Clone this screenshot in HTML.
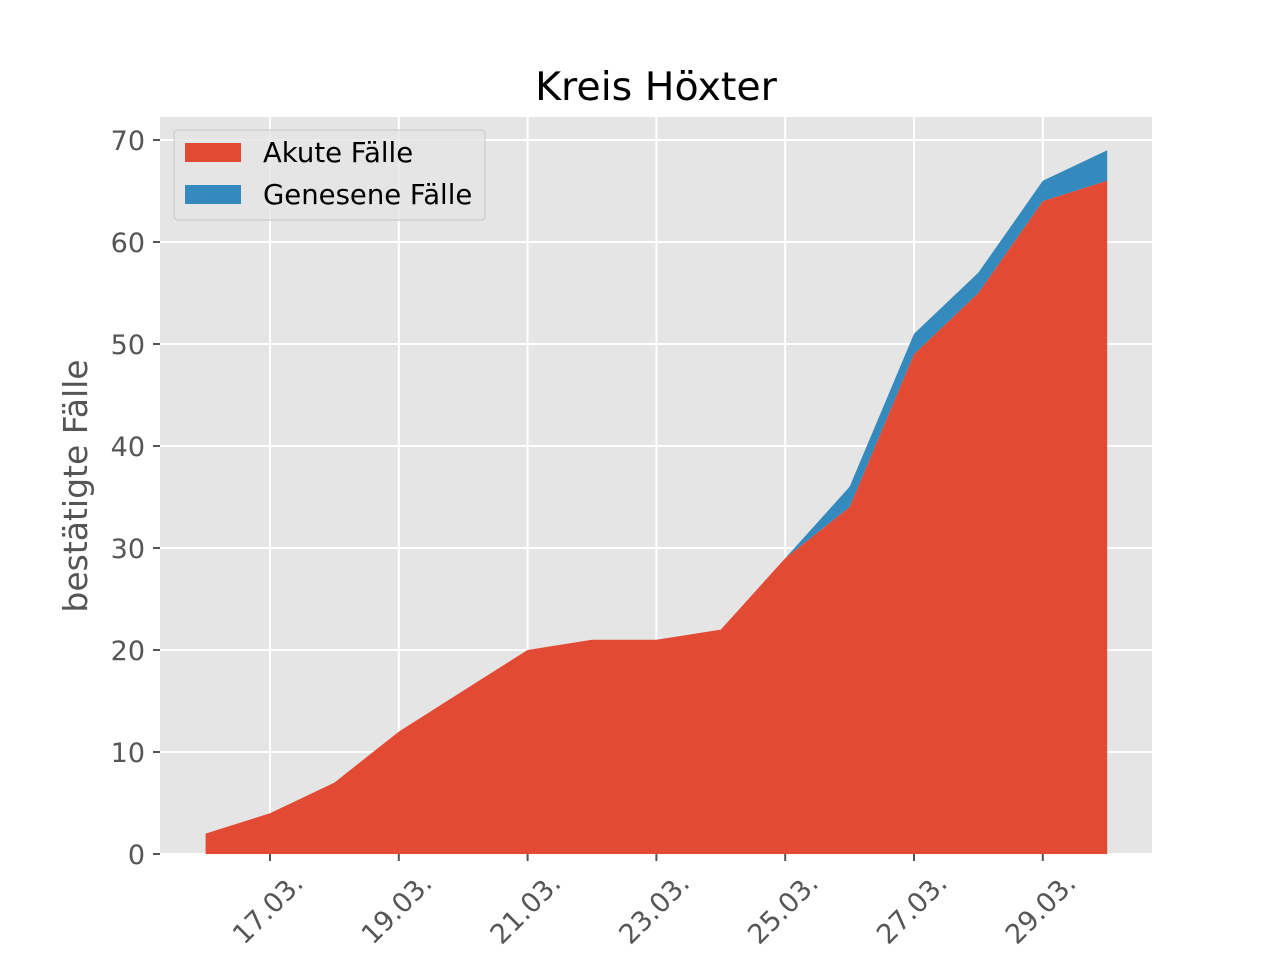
<!DOCTYPE html>
<html><head><meta charset="utf-8"><style>
body{margin:0;background:#fff}
svg{font-family:"DejaVu Sans","Liberation Sans",sans-serif}
</style></head><body>
<svg width="1280" height="960" viewBox="0 0 1280 960">
<rect x="160" y="117" width="992" height="737" fill="#e5e5e5"/>
<g id="grid"></g>
<g id="areas"></g>
<g id="axes"></g>
<text x="656" y="100" font-size="39.5" text-anchor="middle" fill="#000">Kreis Höxter</text>
<text transform="translate(87,486) rotate(-90)" font-size="33" text-anchor="middle" fill="#555">bestätigte Fälle</text>
<g>
<rect x="174" y="130" width="311" height="90" rx="4" fill="#e5e5e5" stroke="#ccc" stroke-width="1.5" opacity="0.8"/>
<rect x="185" y="143" width="56" height="19" fill="#e24a33"/>
<text x="263" y="162" font-size="27.5" fill="#000">Akute Fälle</text>
<rect x="185" y="185" width="56" height="19" fill="#348abd"/>
<text x="263" y="204" font-size="27.5" fill="#000">Genesene Fälle</text>
</g>
</svg>
<script>
const days=[16,17,18,19,20,21,22,23,24,25,26,27,28,29,30];
const akute=[2,4,7,12,16,20,21,21,22,29,34,49,55,64,66];
const genesene=[0,0,0,0,0,0,0,0,0,0,2,2,2,2,3];
const xTicks=[17,19,21,23,25,27,29];
const yTicks=[0,10,20,30,40,50,60,70];
const NS="http://www.w3.org/2000/svg";
const sx=d=>205.6+(d-16)*64.4;
const sy=v=>854-v*10.2;
function mk(t,a,p){const e=document.createElementNS(NS,t);for(const k in a)e.setAttribute(k,a[k]);p.appendChild(e);return e;}
const grid=document.getElementById('grid'),areas=document.getElementById('areas'),axes=document.getElementById('axes');
yTicks.forEach(v=>{
 const l=mk('line',{x1:160,x2:1152,y1:sy(v),y2:sy(v),stroke:'#fff','stroke-width':2},grid);
 
 
 mk('line',{x1:153,x2:160,y1:sy(v),y2:sy(v),stroke:'#555','stroke-width':2},axes);
 const t=mk('text',{x:145,y:sy(v)+10,'font-size':27,'text-anchor':'end',fill:'#555'},axes);
 t.textContent=v;
 
 
});
xTicks.forEach(d=>{
 const l=mk('line',{x1:sx(d),x2:sx(d),y1:117,y2:854,stroke:'#fff','stroke-width':2},grid);
 
 
 mk('line',{x1:sx(d),x2:sx(d),y1:854,y2:861,stroke:'#555','stroke-width':2},axes);
 const t=mk('text',{x:0,y:0,'font-size':27,'text-anchor':'middle','dominant-baseline':'middle',fill:'#555',transform:`translate(${sx(d)-1},910) rotate(-45)`},axes);
 t.textContent=d+'.03.';
 
 
});
const upper=days.map((d,i)=>[sx(d),sy(akute[i]+genesene[i])]);
const mid=days.map((d,i)=>[sx(d),sy(akute[i])]);
let pts=upper.concat(mid.slice().reverse()).map(p=>p.join(',')).join(' ');
const g=mk('polygon',{points:pts,fill:'#348abd'},areas);


pts=mid.concat([[sx(days[days.length-1]),sy(0)],[sx(days[0]),sy(0)]]).map(p=>p.join(',')).join(' ');
const a=mk('polygon',{points:pts,fill:'#e24a33'},areas);


</script>
</body></html>
